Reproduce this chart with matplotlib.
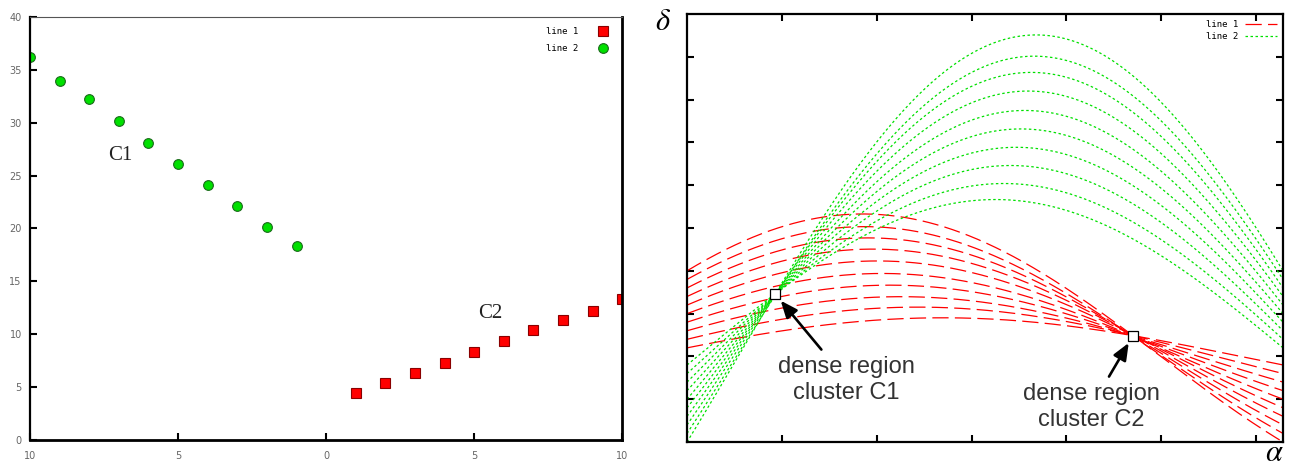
import matplotlib
matplotlib.use("Agg")
import matplotlib.pyplot as plt
import numpy as np

# left panel: the two point clusters
line1_x = [1, 2, 3, 4, 5, 6, 7, 8, 9, 10]
line1_y = [4.4, 5.4, 6.3, 7.3, 8.3, 9.4, 10.4, 11.3, 12.2, 13.3]
line2_x = [-10, -9, -8, -7, -6, -5, -4, -3, -2, -1]
line2_y = [36.2, 33.9, 32.2, 30.2, 28.1, 26.1, 24.1, 22.1, 20.1, 18.3]

x_ticks = [-10, -5, 0, 5, 10]
x_tick_labels = ["10", "5", "0", "5", "10"]
y_ticks = [0, 5, 10, 15, 20, 25, 30, 35, 40]
y_tick_labels = ["0", "5", "10", "15", "20", "25", "30", "35", "40"]

RED = "#ff0000"
GREEN = "#00e000"
TICK_GRAY = "#666666"


def hough(xs, ys, alpha):
    return [x * np.cos(alpha) + y * np.sin(alpha) for x, y in zip(xs, ys)]


def line_normal(xs, ys):
    # normal form (alpha, delta) of the fitted line through a cluster
    slope, icpt = np.polyfit(xs, ys, 1)
    alpha = np.arctan2(1.0, -slope)
    delta = icpt / np.hypot(1.0, slope)
    return alpha, delta


fig = plt.figure(figsize=(12.9, 4.67), dpi=100)

# ---------- left: points ----------
ax1 = fig.add_axes([0.0233, 0.0578, 0.459, 0.906])
ax1.plot(line1_x, line1_y, "s", color=RED, mec="#8a0000", mew=0.8, ms=6.5,
         linestyle="none", label="line 1")
ax1.plot(line2_x, line2_y, "o", color=GREEN, mec="#1a6a1a", mew=0.8, ms=7,
         linestyle="none", label="line 2")
ax1.set_xlim(-10, 10)
ax1.set_ylim(0, 40)
ax1.set_xticks(x_ticks)
ax1.set_xticklabels(x_tick_labels)
ax1.set_yticks(y_ticks)
ax1.set_yticklabels(y_tick_labels)
ax1.tick_params(direction="in", length=5, width=1.5, labelsize=7,
                labelcolor=TICK_GRAY, pad=6)
ax1.tick_params(axis="x", pad=8)
for side, lw in [("left", 1.6), ("bottom", 2.0), ("right", 2.0), ("top", 0.8)]:
    ax1.spines[side].set_linewidth(lw)
ax1.spines["top"].set_color("#555555")
ax1.text(-6.95, 26.9, "C1", fontsize=15, family="Liberation Serif",
         ha="center", va="center", color="#222222")
ax1.text(5.55, 12.0, "C2", fontsize=15, family="Liberation Serif",
         ha="center", va="center", color="#222222")
ax1.legend(loc="upper right", frameon=False, markerfirst=False,
           prop={"family": "DejaVu Sans Mono", "size": 6.5},
           handletextpad=1.8, borderaxespad=0.7, labelspacing=0.9)

# ---------- right: Hough space ----------
ax2 = fig.add_axes([0.5326, 0.0535, 0.462, 0.9165])
alpha = np.linspace(0, np.pi, 600)
for i, d in enumerate(hough(line1_x, line1_y, alpha)):
    ax2.plot(alpha, d, color=RED, lw=0.9, linestyle=(0, (13, 5)),
             label="line 1" if i == 0 else None)
for i, d in enumerate(hough(line2_x, line2_y, alpha)):
    ax2.plot(alpha, d, color=GREEN, lw=0.9, linestyle=(0, (2, 2)),
             label="line 2" if i == 0 else None)
ax2.set_xlim(0, np.pi)
ax2.set_ylim(-10, 40)
ax2.set_xticks(np.arange(0.5, 3.01, 0.5))
ax2.set_yticks(np.arange(-5, 36, 5))
ax2.tick_params(direction="in", length=5, width=1.5, labelleft=False,
                labelbottom=False, top=True, right=True)
for side in ["left", "bottom", "right", "top"]:
    ax2.spines[side].set_linewidth(1.6)
ax2.legend(loc="upper right", frameon=False, markerfirst=False,
           prop={"family": "DejaVu Sans Mono", "size": 6.5},
           handlelength=3.5, handletextpad=0.8, borderaxespad=0.3,
           labelspacing=0.3)

c1 = line_normal(line2_x, line2_y)
c2 = line_normal(line1_x, line1_y)
for a, d in [c1, c2]:
    ax2.plot(a, d, "s", ms=7, mfc="white", mec="black", mew=0.9, zorder=5)

arrow = dict(arrowstyle="-|>,head_length=0.6,head_width=0.25", color="black",
             lw=1.9, shrinkA=3, shrinkB=6)
ax2.annotate("dense region\ncluster C1", xy=c1, xytext=(0.84, 0.1),
             ha="center", va="top", fontsize=17, family="Liberation Sans",
             color="#333333", linespacing=1.25, arrowprops=arrow, zorder=6)
ax2.annotate("dense region\ncluster C2", xy=c2, xytext=(2.13, -3.1),
             ha="center", va="top", fontsize=17, family="Liberation Sans",
             color="#333333", linespacing=1.25, arrowprops=arrow, zorder=6)

fig.text(0.514, 0.953, r"$\delta$", fontsize=22, math_fontfamily="stix",
         ha="center", va="center")
fig.text(0.988, 0.032, r"$\alpha$", fontsize=22, math_fontfamily="stix",
         ha="center", va="center")

fig.savefig("out.png", dpi=100)
